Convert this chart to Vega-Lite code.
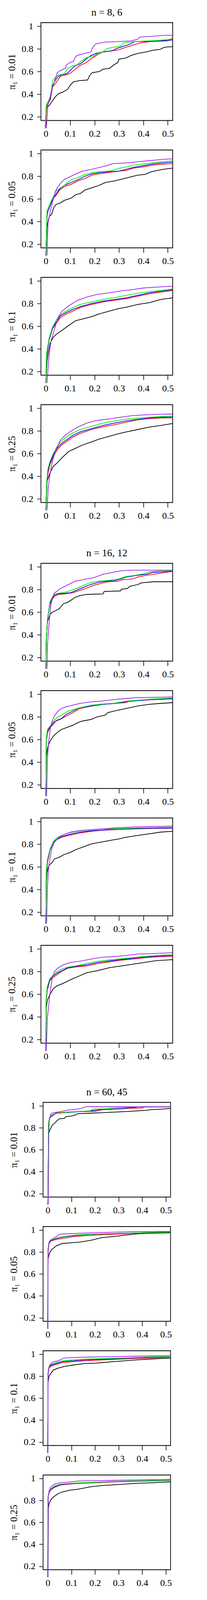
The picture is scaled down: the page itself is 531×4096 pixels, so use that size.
{
"$schema": "https://vega.github.io/schema/vega-lite/v6.json",
"background": "white",
"padding": {"left": 17, "top": 18, "right": 5, "bottom": 5},
"config": {
 "font": "Liberation Serif",
 "view": {"stroke": "#000000", "strokeWidth": 1.8},
 "axis": {"grid": false, "domain": false, "tickColor": "#000000", "tickWidth": 1.6, "labelFont": "Liberation Serif", "labelFontSize": 24, "labelColor": "#000000", "labelFlush": false, "labelOverlap": false, "labelBound": false, "titleFont": "Liberation Serif", "titleFontSize": 25, "titleFontWeight": "normal", "titleColor": "#000000"},
 "axisX": {"tickSize": 12, "labelPadding": 10},
 "axisY": {"tickSize": 10, "labelPadding": 10, "labelAngle": 0},
 "title": {"font": "Liberation Serif", "fontSize": 26, "fontWeight": "normal", "color": "#000000", "anchor": "middle", "frame": "group", "offset": 10},
 "line": {"strokeWidth": 1.8, "clip": true}
},
"datasets": {"d": [
{"p":1,"s":"K","x":-0.002,"y":0.1},{"p":1,"s":"K","x":0.002,"y":0.28},{"p":1,"s":"K","x":0.014,"y":0.3},{"p":1,"s":"K","x":0.028,"y":0.345},{"p":1,"s":"K","x":0.042,"y":0.385},{"p":1,"s":"K","x":0.052,"y":0.405},{"p":1,"s":"K","x":0.071,"y":0.42},{"p":1,"s":"K","x":0.09,"y":0.445},{"p":1,"s":"K","x":0.1,"y":0.48},{"p":1,"s":"K","x":0.114,"y":0.51},{"p":1,"s":"K","x":0.138,"y":0.52},{"p":1,"s":"K","x":0.171,"y":0.525},{"p":1,"s":"K","x":0.181,"y":0.57},{"p":1,"s":"K","x":0.19,"y":0.59},{"p":1,"s":"K","x":0.219,"y":0.6},{"p":1,"s":"K","x":0.233,"y":0.62},{"p":1,"s":"K","x":0.262,"y":0.63},{"p":1,"s":"K","x":0.276,"y":0.655},{"p":1,"s":"K","x":0.295,"y":0.68},{"p":1,"s":"K","x":0.3,"y":0.71},{"p":1,"s":"K","x":0.328,"y":0.72},{"p":1,"s":"K","x":0.347,"y":0.74},{"p":1,"s":"K","x":0.376,"y":0.76},{"p":1,"s":"K","x":0.414,"y":0.775},{"p":1,"s":"K","x":0.443,"y":0.79},{"p":1,"s":"K","x":0.467,"y":0.795},{"p":1,"s":"K","x":0.486,"y":0.815},{"p":1,"s":"K","x":0.52,"y":0.82},
{"p":1,"s":"R","x":-0.002,"y":0.1},{"p":1,"s":"R","x":0.004,"y":0.295},{"p":1,"s":"R","x":0.019,"y":0.356},{"p":1,"s":"R","x":0.028,"y":0.468},{"p":1,"s":"R","x":0.038,"y":0.488},{"p":1,"s":"R","x":0.047,"y":0.519},{"p":1,"s":"R","x":0.061,"y":0.56},{"p":1,"s":"R","x":0.081,"y":0.57},{"p":1,"s":"R","x":0.1,"y":0.585},{"p":1,"s":"R","x":0.114,"y":0.61},{"p":1,"s":"R","x":0.138,"y":0.65},{"p":1,"s":"R","x":0.166,"y":0.68},{"p":1,"s":"R","x":0.185,"y":0.712},{"p":1,"s":"R","x":0.214,"y":0.753},{"p":1,"s":"R","x":0.233,"y":0.773},{"p":1,"s":"R","x":0.271,"y":0.783},{"p":1,"s":"R","x":0.3,"y":0.793},{"p":1,"s":"R","x":0.328,"y":0.814},{"p":1,"s":"R","x":0.357,"y":0.834},{"p":1,"s":"R","x":0.39,"y":0.854},{"p":1,"s":"R","x":0.428,"y":0.865},{"p":1,"s":"R","x":0.495,"y":0.87},{"p":1,"s":"R","x":0.52,"y":0.885},
{"p":1,"s":"B","x":-0.002,"y":0.1},{"p":1,"s":"B","x":0.002,"y":0.305},{"p":1,"s":"B","x":0.019,"y":0.366},{"p":1,"s":"B","x":0.028,"y":0.478},{"p":1,"s":"B","x":0.038,"y":0.519},{"p":1,"s":"B","x":0.047,"y":0.549},{"p":1,"s":"B","x":0.061,"y":0.57},{"p":1,"s":"B","x":0.085,"y":0.58},{"p":1,"s":"B","x":0.1,"y":0.61},{"p":1,"s":"B","x":0.109,"y":0.63},{"p":1,"s":"B","x":0.119,"y":0.65},{"p":1,"s":"B","x":0.143,"y":0.67},{"p":1,"s":"B","x":0.166,"y":0.712},{"p":1,"s":"B","x":0.185,"y":0.742},{"p":1,"s":"B","x":0.209,"y":0.763},{"p":1,"s":"B","x":0.233,"y":0.773},{"p":1,"s":"B","x":0.271,"y":0.783},{"p":1,"s":"B","x":0.29,"y":0.804},{"p":1,"s":"B","x":0.319,"y":0.824},{"p":1,"s":"B","x":0.347,"y":0.844},{"p":1,"s":"B","x":0.362,"y":0.865},{"p":1,"s":"B","x":0.405,"y":0.865},{"p":1,"s":"B","x":0.495,"y":0.875},{"p":1,"s":"B","x":0.52,"y":0.88},
{"p":1,"s":"G","x":-0.002,"y":0.1},{"p":1,"s":"G","x":0.002,"y":0.305},{"p":1,"s":"G","x":0.019,"y":0.376},{"p":1,"s":"G","x":0.028,"y":0.519},{"p":1,"s":"G","x":0.038,"y":0.549},{"p":1,"s":"G","x":0.052,"y":0.57},{"p":1,"s":"G","x":0.076,"y":0.58},{"p":1,"s":"G","x":0.09,"y":0.63},{"p":1,"s":"G","x":0.109,"y":0.65},{"p":1,"s":"G","x":0.128,"y":0.66},{"p":1,"s":"G","x":0.143,"y":0.69},{"p":1,"s":"G","x":0.166,"y":0.722},{"p":1,"s":"G","x":0.2,"y":0.742},{"p":1,"s":"G","x":0.214,"y":0.763},{"p":1,"s":"G","x":0.233,"y":0.773},{"p":1,"s":"G","x":0.252,"y":0.804},{"p":1,"s":"G","x":0.276,"y":0.814},{"p":1,"s":"G","x":0.305,"y":0.824},{"p":1,"s":"G","x":0.319,"y":0.854},{"p":1,"s":"G","x":0.362,"y":0.865},{"p":1,"s":"G","x":0.462,"y":0.875},{"p":1,"s":"G","x":0.51,"y":0.885},{"p":1,"s":"G","x":0.52,"y":0.905},
{"p":1,"s":"P","x":0.002,"y":0.1},{"p":1,"s":"P","x":0.009,"y":0.305},{"p":1,"s":"P","x":0.023,"y":0.427},{"p":1,"s":"P","x":0.038,"y":0.529},{"p":1,"s":"P","x":0.047,"y":0.59},{"p":1,"s":"P","x":0.061,"y":0.61},{"p":1,"s":"P","x":0.081,"y":0.63},{"p":1,"s":"P","x":0.085,"y":0.66},{"p":1,"s":"P","x":0.1,"y":0.68},{"p":1,"s":"P","x":0.114,"y":0.69},{"p":1,"s":"P","x":0.119,"y":0.722},{"p":1,"s":"P","x":0.128,"y":0.742},{"p":1,"s":"P","x":0.147,"y":0.753},{"p":1,"s":"P","x":0.166,"y":0.763},{"p":1,"s":"P","x":0.185,"y":0.773},{"p":1,"s":"P","x":0.19,"y":0.804},{"p":1,"s":"P","x":0.204,"y":0.844},{"p":1,"s":"P","x":0.243,"y":0.86},{"p":1,"s":"P","x":0.347,"y":0.87},{"p":1,"s":"P","x":0.376,"y":0.885},{"p":1,"s":"P","x":0.386,"y":0.905},{"p":1,"s":"P","x":0.424,"y":0.91},{"p":1,"s":"P","x":0.486,"y":0.92},{"p":1,"s":"P","x":0.52,"y":0.92},

{"p":2,"s":"K","x":0,"y":0.1},{"p":2,"s":"K","x":0.005,"y":0.363},{"p":2,"s":"K","x":0.014,"y":0.444},{"p":2,"s":"K","x":0.024,"y":0.465},{"p":2,"s":"K","x":0.033,"y":0.526},{"p":2,"s":"K","x":0.042,"y":0.551},{"p":2,"s":"K","x":0.061,"y":0.566},{"p":2,"s":"K","x":0.075,"y":0.587},{"p":2,"s":"K","x":0.104,"y":0.607},{"p":2,"s":"K","x":0.123,"y":0.638},{"p":2,"s":"K","x":0.142,"y":0.648},{"p":2,"s":"K","x":0.16,"y":0.678},{"p":2,"s":"K","x":0.189,"y":0.699},{"p":2,"s":"K","x":0.217,"y":0.719},{"p":2,"s":"K","x":0.245,"y":0.745},{"p":2,"s":"K","x":0.283,"y":0.76},{"p":2,"s":"K","x":0.311,"y":0.775},{"p":2,"s":"K","x":0.34,"y":0.79},{"p":2,"s":"K","x":0.377,"y":0.81},{"p":2,"s":"K","x":0.406,"y":0.816},{"p":2,"s":"K","x":0.434,"y":0.841},{"p":2,"s":"K","x":0.481,"y":0.862},{"p":2,"s":"K","x":0.52,"y":0.872},
{"p":2,"s":"R","x":0,"y":0.1},{"p":2,"s":"R","x":0.005,"y":0.444},{"p":2,"s":"R","x":0.009,"y":0.495},{"p":2,"s":"R","x":0.019,"y":0.546},{"p":2,"s":"R","x":0.028,"y":0.597},{"p":2,"s":"R","x":0.042,"y":0.633},{"p":2,"s":"R","x":0.057,"y":0.678},{"p":2,"s":"R","x":0.075,"y":0.709},{"p":2,"s":"R","x":0.104,"y":0.729},{"p":2,"s":"R","x":0.132,"y":0.76},{"p":2,"s":"R","x":0.16,"y":0.78},{"p":2,"s":"R","x":0.189,"y":0.81},{"p":2,"s":"R","x":0.217,"y":0.821},{"p":2,"s":"R","x":0.264,"y":0.836},{"p":2,"s":"R","x":0.302,"y":0.846},{"p":2,"s":"R","x":0.33,"y":0.851},{"p":2,"s":"R","x":0.358,"y":0.872},{"p":2,"s":"R","x":0.396,"y":0.882},{"p":2,"s":"R","x":0.434,"y":0.897},{"p":2,"s":"R","x":0.472,"y":0.907},{"p":2,"s":"R","x":0.52,"y":0.912},
{"p":2,"s":"B","x":0,"y":0.1},{"p":2,"s":"B","x":0.005,"y":0.465},{"p":2,"s":"B","x":0.009,"y":0.495},{"p":2,"s":"B","x":0.019,"y":0.546},{"p":2,"s":"B","x":0.028,"y":0.597},{"p":2,"s":"B","x":0.042,"y":0.643},{"p":2,"s":"B","x":0.057,"y":0.689},{"p":2,"s":"B","x":0.075,"y":0.719},{"p":2,"s":"B","x":0.104,"y":0.745},{"p":2,"s":"B","x":0.132,"y":0.77},{"p":2,"s":"B","x":0.16,"y":0.8},{"p":2,"s":"B","x":0.189,"y":0.821},{"p":2,"s":"B","x":0.217,"y":0.831},{"p":2,"s":"B","x":0.264,"y":0.841},{"p":2,"s":"B","x":0.302,"y":0.846},{"p":2,"s":"B","x":0.33,"y":0.862},{"p":2,"s":"B","x":0.358,"y":0.877},{"p":2,"s":"B","x":0.396,"y":0.892},{"p":2,"s":"B","x":0.434,"y":0.907},{"p":2,"s":"B","x":0.472,"y":0.918},{"p":2,"s":"B","x":0.52,"y":0.925},
{"p":2,"s":"G","x":0,"y":0.1},{"p":2,"s":"G","x":0.005,"y":0.495},{"p":2,"s":"G","x":0.014,"y":0.546},{"p":2,"s":"G","x":0.028,"y":0.607},{"p":2,"s":"G","x":0.042,"y":0.668},{"p":2,"s":"G","x":0.057,"y":0.694},{"p":2,"s":"G","x":0.075,"y":0.719},{"p":2,"s":"G","x":0.104,"y":0.77},{"p":2,"s":"G","x":0.132,"y":0.79},{"p":2,"s":"G","x":0.16,"y":0.816},{"p":2,"s":"G","x":0.189,"y":0.831},{"p":2,"s":"G","x":0.226,"y":0.841},{"p":2,"s":"G","x":0.264,"y":0.846},{"p":2,"s":"G","x":0.302,"y":0.872},{"p":2,"s":"G","x":0.33,"y":0.882},{"p":2,"s":"G","x":0.358,"y":0.897},{"p":2,"s":"G","x":0.396,"y":0.907},{"p":2,"s":"G","x":0.434,"y":0.918},{"p":2,"s":"G","x":0.472,"y":0.928},{"p":2,"s":"G","x":0.52,"y":0.935},
{"p":2,"s":"P","x":0.005,"y":0.1},{"p":2,"s":"P","x":0.009,"y":0.383},{"p":2,"s":"P","x":0.019,"y":0.495},{"p":2,"s":"P","x":0.028,"y":0.577},{"p":2,"s":"P","x":0.038,"y":0.658},{"p":2,"s":"P","x":0.047,"y":0.699},{"p":2,"s":"P","x":0.061,"y":0.74},{"p":2,"s":"P","x":0.075,"y":0.77},{"p":2,"s":"P","x":0.094,"y":0.79},{"p":2,"s":"P","x":0.123,"y":0.821},{"p":2,"s":"P","x":0.151,"y":0.846},{"p":2,"s":"P","x":0.189,"y":0.862},{"p":2,"s":"P","x":0.236,"y":0.887},{"p":2,"s":"P","x":0.255,"y":0.897},{"p":2,"s":"P","x":0.274,"y":0.912},{"p":2,"s":"P","x":0.33,"y":0.918},{"p":2,"s":"P","x":0.377,"y":0.928},{"p":2,"s":"P","x":0.425,"y":0.938},{"p":2,"s":"P","x":0.472,"y":0.948},{"p":2,"s":"P","x":0.52,"y":0.955},

{"p":3,"s":"K","x":0,"y":0.1},{"p":3,"s":"K","x":0.005,"y":0.3},{"p":3,"s":"K","x":0.017,"y":0.447},{"p":3,"s":"K","x":0.031,"y":0.505},{"p":3,"s":"K","x":0.046,"y":0.534},{"p":3,"s":"K","x":0.065,"y":0.562},{"p":3,"s":"K","x":0.093,"y":0.606},{"p":3,"s":"K","x":0.122,"y":0.649},{"p":3,"s":"K","x":0.15,"y":0.664},{"p":3,"s":"K","x":0.188,"y":0.685},{"p":3,"s":"K","x":0.216,"y":0.707},{"p":3,"s":"K","x":0.263,"y":0.736},{"p":3,"s":"K","x":0.301,"y":0.757},{"p":3,"s":"K","x":0.329,"y":0.768},{"p":3,"s":"K","x":0.377,"y":0.793},{"p":3,"s":"K","x":0.424,"y":0.808},{"p":3,"s":"K","x":0.471,"y":0.837},{"p":3,"s":"K","x":0.52,"y":0.851},
{"p":3,"s":"R","x":0,"y":0.1},{"p":3,"s":"R","x":0.003,"y":0.331},{"p":3,"s":"R","x":0.013,"y":0.476},{"p":3,"s":"R","x":0.027,"y":0.577},{"p":3,"s":"R","x":0.041,"y":0.62},{"p":3,"s":"R","x":0.06,"y":0.678},{"p":3,"s":"R","x":0.084,"y":0.707},{"p":3,"s":"R","x":0.112,"y":0.736},{"p":3,"s":"R","x":0.14,"y":0.765},{"p":3,"s":"R","x":0.188,"y":0.793},{"p":3,"s":"R","x":0.235,"y":0.815},{"p":3,"s":"R","x":0.283,"y":0.83},{"p":3,"s":"R","x":0.33,"y":0.844},{"p":3,"s":"R","x":0.377,"y":0.866},{"p":3,"s":"R","x":0.424,"y":0.887},{"p":3,"s":"R","x":0.471,"y":0.902},{"p":3,"s":"R","x":0.52,"y":0.916},
{"p":3,"s":"B","x":0,"y":0.1},{"p":3,"s":"B","x":0.003,"y":0.331},{"p":3,"s":"B","x":0.013,"y":0.476},{"p":3,"s":"B","x":0.027,"y":0.577},{"p":3,"s":"B","x":0.041,"y":0.633},{"p":3,"s":"B","x":0.06,"y":0.692},{"p":3,"s":"B","x":0.084,"y":0.721},{"p":3,"s":"B","x":0.112,"y":0.75},{"p":3,"s":"B","x":0.14,"y":0.772},{"p":3,"s":"B","x":0.188,"y":0.801},{"p":3,"s":"B","x":0.235,"y":0.822},{"p":3,"s":"B","x":0.283,"y":0.837},{"p":3,"s":"B","x":0.33,"y":0.851},{"p":3,"s":"B","x":0.377,"y":0.873},{"p":3,"s":"B","x":0.424,"y":0.895},{"p":3,"s":"B","x":0.471,"y":0.909},{"p":3,"s":"B","x":0.52,"y":0.923},
{"p":3,"s":"G","x":0,"y":0.1},{"p":3,"s":"G","x":0.003,"y":0.36},{"p":3,"s":"G","x":0.013,"y":0.49},{"p":3,"s":"G","x":0.027,"y":0.591},{"p":3,"s":"G","x":0.041,"y":0.649},{"p":3,"s":"G","x":0.06,"y":0.7},{"p":3,"s":"G","x":0.084,"y":0.736},{"p":3,"s":"G","x":0.112,"y":0.765},{"p":3,"s":"G","x":0.14,"y":0.793},{"p":3,"s":"G","x":0.188,"y":0.815},{"p":3,"s":"G","x":0.235,"y":0.837},{"p":3,"s":"G","x":0.283,"y":0.854},{"p":3,"s":"G","x":0.33,"y":0.873},{"p":3,"s":"G","x":0.377,"y":0.892},{"p":3,"s":"G","x":0.424,"y":0.906},{"p":3,"s":"G","x":0.471,"y":0.916},{"p":3,"s":"G","x":0.52,"y":0.931},
{"p":3,"s":"P","x":0.005,"y":0.1},{"p":3,"s":"P","x":0.013,"y":0.331},{"p":3,"s":"P","x":0.022,"y":0.476},{"p":3,"s":"P","x":0.036,"y":0.577},{"p":3,"s":"P","x":0.05,"y":0.678},{"p":3,"s":"P","x":0.065,"y":0.729},{"p":3,"s":"P","x":0.084,"y":0.765},{"p":3,"s":"P","x":0.103,"y":0.793},{"p":3,"s":"P","x":0.131,"y":0.83},{"p":3,"s":"P","x":0.169,"y":0.858},{"p":3,"s":"P","x":0.207,"y":0.88},{"p":3,"s":"P","x":0.259,"y":0.895},{"p":3,"s":"P","x":0.306,"y":0.912},{"p":3,"s":"P","x":0.353,"y":0.923},{"p":3,"s":"P","x":0.401,"y":0.938},{"p":3,"s":"P","x":0.471,"y":0.948},{"p":3,"s":"P","x":0.52,"y":0.955},

{"p":4,"s":"K","x":0,"y":0.1},{"p":4,"s":"K","x":0.005,"y":0.359},{"p":4,"s":"K","x":0.008,"y":0.373},{"p":4,"s":"K","x":0.017,"y":0.431},{"p":4,"s":"K","x":0.031,"y":0.488},{"p":4,"s":"K","x":0.046,"y":0.517},{"p":4,"s":"K","x":0.065,"y":0.56},{"p":4,"s":"K","x":0.093,"y":0.618},{"p":4,"s":"K","x":0.122,"y":0.647},{"p":4,"s":"K","x":0.15,"y":0.676},{"p":4,"s":"K","x":0.188,"y":0.704},{"p":4,"s":"K","x":0.216,"y":0.726},{"p":4,"s":"K","x":0.263,"y":0.755},{"p":4,"s":"K","x":0.301,"y":0.777},{"p":4,"s":"K","x":0.329,"y":0.791},{"p":4,"s":"K","x":0.377,"y":0.813},{"p":4,"s":"K","x":0.424,"y":0.834},{"p":4,"s":"K","x":0.471,"y":0.849},{"p":4,"s":"K","x":0.52,"y":0.866},
{"p":4,"s":"R","x":0,"y":0.1},{"p":4,"s":"R","x":0.003,"y":0.3},{"p":4,"s":"R","x":0.008,"y":0.416},{"p":4,"s":"R","x":0.017,"y":0.503},{"p":4,"s":"R","x":0.031,"y":0.575},{"p":4,"s":"R","x":0.046,"y":0.632},{"p":4,"s":"R","x":0.065,"y":0.676},{"p":4,"s":"R","x":0.084,"y":0.704},{"p":4,"s":"R","x":0.112,"y":0.748},{"p":4,"s":"R","x":0.14,"y":0.777},{"p":4,"s":"R","x":0.188,"y":0.813},{"p":4,"s":"R","x":0.235,"y":0.837},{"p":4,"s":"R","x":0.283,"y":0.856},{"p":4,"s":"R","x":0.33,"y":0.877},{"p":4,"s":"R","x":0.377,"y":0.899},{"p":4,"s":"R","x":0.424,"y":0.909},{"p":4,"s":"R","x":0.471,"y":0.914},{"p":4,"s":"R","x":0.52,"y":0.916},
{"p":4,"s":"B","x":0,"y":0.1},{"p":4,"s":"B","x":0.003,"y":0.31},{"p":4,"s":"B","x":0.008,"y":0.445},{"p":4,"s":"B","x":0.017,"y":0.517},{"p":4,"s":"B","x":0.031,"y":0.589},{"p":4,"s":"B","x":0.046,"y":0.647},{"p":4,"s":"B","x":0.065,"y":0.69},{"p":4,"s":"B","x":0.084,"y":0.719},{"p":4,"s":"B","x":0.112,"y":0.762},{"p":4,"s":"B","x":0.14,"y":0.791},{"p":4,"s":"B","x":0.188,"y":0.82},{"p":4,"s":"B","x":0.235,"y":0.849},{"p":4,"s":"B","x":0.283,"y":0.87},{"p":4,"s":"B","x":0.33,"y":0.889},{"p":4,"s":"B","x":0.377,"y":0.903},{"p":4,"s":"B","x":0.424,"y":0.914},{"p":4,"s":"B","x":0.471,"y":0.921},{"p":4,"s":"B","x":0.52,"y":0.924},
{"p":4,"s":"G","x":0,"y":0.1},{"p":4,"s":"G","x":0.003,"y":0.33},{"p":4,"s":"G","x":0.008,"y":0.46},{"p":4,"s":"G","x":0.017,"y":0.532},{"p":4,"s":"G","x":0.031,"y":0.604},{"p":4,"s":"G","x":0.046,"y":0.661},{"p":4,"s":"G","x":0.065,"y":0.712},{"p":4,"s":"G","x":0.084,"y":0.748},{"p":4,"s":"G","x":0.112,"y":0.784},{"p":4,"s":"G","x":0.14,"y":0.813},{"p":4,"s":"G","x":0.188,"y":0.841},{"p":4,"s":"G","x":0.235,"y":0.87},{"p":4,"s":"G","x":0.283,"y":0.889},{"p":4,"s":"G","x":0.33,"y":0.906},{"p":4,"s":"G","x":0.377,"y":0.914},{"p":4,"s":"G","x":0.424,"y":0.921},{"p":4,"s":"G","x":0.471,"y":0.928},{"p":4,"s":"G","x":0.52,"y":0.931},
{"p":4,"s":"P","x":0.005,"y":0.1},{"p":4,"s":"P","x":0.01,"y":0.3},{"p":4,"s":"P","x":0.017,"y":0.416},{"p":4,"s":"P","x":0.027,"y":0.532},{"p":4,"s":"P","x":0.041,"y":0.632},{"p":4,"s":"P","x":0.06,"y":0.719},{"p":4,"s":"P","x":0.079,"y":0.762},{"p":4,"s":"P","x":0.103,"y":0.798},{"p":4,"s":"P","x":0.131,"y":0.834},{"p":4,"s":"P","x":0.169,"y":0.87},{"p":4,"s":"P","x":0.207,"y":0.892},{"p":4,"s":"P","x":0.259,"y":0.906},{"p":4,"s":"P","x":0.306,"y":0.921},{"p":4,"s":"P","x":0.353,"y":0.935},{"p":4,"s":"P","x":0.401,"y":0.942},{"p":4,"s":"P","x":0.471,"y":0.947},{"p":4,"s":"P","x":0.52,"y":0.95},

{"p":5,"s":"K","x":0,"y":0.1},{"p":5,"s":"K","x":0.002,"y":0.35},{"p":5,"s":"K","x":0.005,"y":0.466},{"p":5,"s":"K","x":0.007,"y":0.517},{"p":5,"s":"K","x":0.012,"y":0.548},{"p":5,"s":"K","x":0.017,"y":0.579},{"p":5,"s":"K","x":0.026,"y":0.599},{"p":5,"s":"K","x":0.04,"y":0.614},{"p":5,"s":"K","x":0.055,"y":0.63},{"p":5,"s":"K","x":0.064,"y":0.655},{"p":5,"s":"K","x":0.073,"y":0.676},{"p":5,"s":"K","x":0.088,"y":0.686},{"p":5,"s":"K","x":0.107,"y":0.711},{"p":5,"s":"K","x":0.121,"y":0.732},{"p":5,"s":"K","x":0.14,"y":0.747},{"p":5,"s":"K","x":0.168,"y":0.757},{"p":5,"s":"K","x":0.235,"y":0.762},{"p":5,"s":"K","x":0.239,"y":0.783},{"p":5,"s":"K","x":0.306,"y":0.788},{"p":5,"s":"K","x":0.31,"y":0.803},{"p":5,"s":"K","x":0.334,"y":0.808},{"p":5,"s":"K","x":0.344,"y":0.829},{"p":5,"s":"K","x":0.377,"y":0.844},{"p":5,"s":"K","x":0.391,"y":0.859},{"p":5,"s":"K","x":0.443,"y":0.869},{"p":5,"s":"K","x":0.52,"y":0.869},
{"p":5,"s":"R","x":0,"y":0.1},{"p":5,"s":"R","x":0.002,"y":0.364},{"p":5,"s":"R","x":0.007,"y":0.538},{"p":5,"s":"R","x":0.017,"y":0.67},{"p":5,"s":"R","x":0.026,"y":0.711},{"p":5,"s":"R","x":0.036,"y":0.742},{"p":5,"s":"R","x":0.05,"y":0.757},{"p":5,"s":"R","x":0.078,"y":0.762},{"p":5,"s":"R","x":0.111,"y":0.772},{"p":5,"s":"R","x":0.14,"y":0.793},{"p":5,"s":"R","x":0.168,"y":0.813},{"p":5,"s":"R","x":0.192,"y":0.834},{"p":5,"s":"R","x":0.225,"y":0.854},{"p":5,"s":"R","x":0.254,"y":0.869},{"p":5,"s":"R","x":0.296,"y":0.874},{"p":5,"s":"R","x":0.31,"y":0.885},{"p":5,"s":"R","x":0.358,"y":0.895},{"p":5,"s":"R","x":0.377,"y":0.91},{"p":5,"s":"R","x":0.415,"y":0.926},{"p":5,"s":"R","x":0.448,"y":0.936},{"p":5,"s":"R","x":0.486,"y":0.951},{"p":5,"s":"R","x":0.52,"y":0.961},
{"p":5,"s":"B","x":0,"y":0.1},{"p":5,"s":"B","x":0.002,"y":0.364},{"p":5,"s":"B","x":0.007,"y":0.538},{"p":5,"s":"B","x":0.017,"y":0.68},{"p":5,"s":"B","x":0.026,"y":0.721},{"p":5,"s":"B","x":0.036,"y":0.752},{"p":5,"s":"B","x":0.05,"y":0.762},{"p":5,"s":"B","x":0.102,"y":0.772},{"p":5,"s":"B","x":0.13,"y":0.798},{"p":5,"s":"B","x":0.159,"y":0.823},{"p":5,"s":"B","x":0.182,"y":0.844},{"p":5,"s":"B","x":0.216,"y":0.864},{"p":5,"s":"B","x":0.249,"y":0.874},{"p":5,"s":"B","x":0.282,"y":0.88},{"p":5,"s":"B","x":0.31,"y":0.895},{"p":5,"s":"B","x":0.329,"y":0.91},{"p":5,"s":"B","x":0.377,"y":0.926},{"p":5,"s":"B","x":0.415,"y":0.936},{"p":5,"s":"B","x":0.438,"y":0.951},{"p":5,"s":"B","x":0.472,"y":0.956},{"p":5,"s":"B","x":0.52,"y":0.961},
{"p":5,"s":"G","x":0,"y":0.1},{"p":5,"s":"G","x":0.002,"y":0.364},{"p":5,"s":"G","x":0.007,"y":0.548},{"p":5,"s":"G","x":0.017,"y":0.691},{"p":5,"s":"G","x":0.026,"y":0.732},{"p":5,"s":"G","x":0.036,"y":0.757},{"p":5,"s":"G","x":0.05,"y":0.767},{"p":5,"s":"G","x":0.083,"y":0.778},{"p":5,"s":"G","x":0.111,"y":0.798},{"p":5,"s":"G","x":0.14,"y":0.823},{"p":5,"s":"G","x":0.168,"y":0.849},{"p":5,"s":"G","x":0.187,"y":0.864},{"p":5,"s":"G","x":0.216,"y":0.874},{"p":5,"s":"G","x":0.277,"y":0.885},{"p":5,"s":"G","x":0.301,"y":0.895},{"p":5,"s":"G","x":0.329,"y":0.915},{"p":5,"s":"G","x":0.367,"y":0.926},{"p":5,"s":"G","x":0.405,"y":0.941},{"p":5,"s":"G","x":0.424,"y":0.956},{"p":5,"s":"G","x":0.472,"y":0.966},{"p":5,"s":"G","x":0.52,"y":0.966},
{"p":5,"s":"P","x":0.005,"y":0.1},{"p":5,"s":"P","x":0.007,"y":0.313},{"p":5,"s":"P","x":0.012,"y":0.466},{"p":5,"s":"P","x":0.021,"y":0.67},{"p":5,"s":"P","x":0.031,"y":0.752},{"p":5,"s":"P","x":0.036,"y":0.772},{"p":5,"s":"P","x":0.045,"y":0.783},{"p":5,"s":"P","x":0.055,"y":0.803},{"p":5,"s":"P","x":0.064,"y":0.813},{"p":5,"s":"P","x":0.083,"y":0.834},{"p":5,"s":"P","x":0.102,"y":0.854},{"p":5,"s":"P","x":0.121,"y":0.874},{"p":5,"s":"P","x":0.149,"y":0.885},{"p":5,"s":"P","x":0.168,"y":0.895},{"p":5,"s":"P","x":0.197,"y":0.905},{"p":5,"s":"P","x":0.216,"y":0.92},{"p":5,"s":"P","x":0.235,"y":0.936},{"p":5,"s":"P","x":0.263,"y":0.946},{"p":5,"s":"P","x":0.282,"y":0.956},{"p":5,"s":"P","x":0.31,"y":0.966},{"p":5,"s":"P","x":0.353,"y":0.971},{"p":5,"s":"P","x":0.52,"y":0.971},

{"p":6,"s":"K","x":0,"y":0.1},{"p":6,"s":"K","x":0.002,"y":0.437},{"p":6,"s":"K","x":0.007,"y":0.526},{"p":6,"s":"K","x":0.017,"y":0.585},{"p":6,"s":"K","x":0.031,"y":0.63},{"p":6,"s":"K","x":0.045,"y":0.659},{"p":6,"s":"K","x":0.064,"y":0.689},{"p":6,"s":"K","x":0.083,"y":0.704},{"p":6,"s":"K","x":0.111,"y":0.726},{"p":6,"s":"K","x":0.13,"y":0.748},{"p":6,"s":"K","x":0.149,"y":0.763},{"p":6,"s":"K","x":0.187,"y":0.778},{"p":6,"s":"K","x":0.21,"y":0.8},{"p":6,"s":"K","x":0.243,"y":0.815},{"p":6,"s":"K","x":0.253,"y":0.837},{"p":6,"s":"K","x":0.281,"y":0.852},{"p":6,"s":"K","x":0.328,"y":0.874},{"p":6,"s":"K","x":0.376,"y":0.896},{"p":6,"s":"K","x":0.423,"y":0.911},{"p":6,"s":"K","x":0.47,"y":0.919},{"p":6,"s":"K","x":0.52,"y":0.926},
{"p":6,"s":"R","x":0,"y":0.1},{"p":6,"s":"R","x":0.002,"y":0.585},{"p":6,"s":"R","x":0.007,"y":0.659},{"p":6,"s":"R","x":0.017,"y":0.704},{"p":6,"s":"R","x":0.031,"y":0.733},{"p":6,"s":"R","x":0.04,"y":0.763},{"p":6,"s":"R","x":0.059,"y":0.778},{"p":6,"s":"R","x":0.083,"y":0.807},{"p":6,"s":"R","x":0.111,"y":0.837},{"p":6,"s":"R","x":0.139,"y":0.874},{"p":6,"s":"R","x":0.187,"y":0.896},{"p":6,"s":"R","x":0.234,"y":0.911},{"p":6,"s":"R","x":0.281,"y":0.919},{"p":6,"s":"R","x":0.328,"y":0.926},{"p":6,"s":"R","x":0.343,"y":0.941},{"p":6,"s":"R","x":0.399,"y":0.948},{"p":6,"s":"R","x":0.447,"y":0.953},{"p":6,"s":"R","x":0.52,"y":0.959},
{"p":6,"s":"B","x":0,"y":0.1},{"p":6,"s":"B","x":0.002,"y":0.6},{"p":6,"s":"B","x":0.007,"y":0.674},{"p":6,"s":"B","x":0.017,"y":0.711},{"p":6,"s":"B","x":0.031,"y":0.748},{"p":6,"s":"B","x":0.045,"y":0.77},{"p":6,"s":"B","x":0.064,"y":0.785},{"p":6,"s":"B","x":0.083,"y":0.822},{"p":6,"s":"B","x":0.111,"y":0.852},{"p":6,"s":"B","x":0.139,"y":0.881},{"p":6,"s":"B","x":0.187,"y":0.896},{"p":6,"s":"B","x":0.234,"y":0.911},{"p":6,"s":"B","x":0.281,"y":0.919},{"p":6,"s":"B","x":0.328,"y":0.933},{"p":6,"s":"B","x":0.376,"y":0.944},{"p":6,"s":"B","x":0.447,"y":0.956},{"p":6,"s":"B","x":0.52,"y":0.961},
{"p":6,"s":"G","x":0,"y":0.1},{"p":6,"s":"G","x":0.002,"y":0.615},{"p":6,"s":"G","x":0.007,"y":0.689},{"p":6,"s":"G","x":0.017,"y":0.719},{"p":6,"s":"G","x":0.031,"y":0.763},{"p":6,"s":"G","x":0.045,"y":0.793},{"p":6,"s":"G","x":0.064,"y":0.815},{"p":6,"s":"G","x":0.092,"y":0.852},{"p":6,"s":"G","x":0.139,"y":0.881},{"p":6,"s":"G","x":0.187,"y":0.904},{"p":6,"s":"G","x":0.234,"y":0.914},{"p":6,"s":"G","x":0.281,"y":0.921},{"p":6,"s":"G","x":0.328,"y":0.938},{"p":6,"s":"G","x":0.376,"y":0.948},{"p":6,"s":"G","x":0.447,"y":0.959},{"p":6,"s":"G","x":0.52,"y":0.967},
{"p":6,"s":"P","x":0.003,"y":0.1},{"p":6,"s":"P","x":0.007,"y":0.437},{"p":6,"s":"P","x":0.012,"y":0.585},{"p":6,"s":"P","x":0.019,"y":0.704},{"p":6,"s":"P","x":0.026,"y":0.763},{"p":6,"s":"P","x":0.035,"y":0.807},{"p":6,"s":"P","x":0.05,"y":0.852},{"p":6,"s":"P","x":0.064,"y":0.874},{"p":6,"s":"P","x":0.083,"y":0.889},{"p":6,"s":"P","x":0.111,"y":0.904},{"p":6,"s":"P","x":0.139,"y":0.919},{"p":6,"s":"P","x":0.187,"y":0.933},{"p":6,"s":"P","x":0.234,"y":0.941},{"p":6,"s":"P","x":0.281,"y":0.953},{"p":6,"s":"P","x":0.328,"y":0.963},{"p":6,"s":"P","x":0.376,"y":0.97},{"p":6,"s":"P","x":0.447,"y":0.973},{"p":6,"s":"P","x":0.52,"y":0.976},

{"p":7,"s":"K","x":0,"y":0.1},{"p":7,"s":"K","x":0.002,"y":0.45},{"p":7,"s":"K","x":0.005,"y":0.551},{"p":7,"s":"K","x":0.012,"y":0.61},{"p":7,"s":"K","x":0.026,"y":0.64},{"p":7,"s":"K","x":0.035,"y":0.67},{"p":7,"s":"K","x":0.054,"y":0.684},{"p":7,"s":"K","x":0.073,"y":0.707},{"p":7,"s":"K","x":0.102,"y":0.729},{"p":7,"s":"K","x":0.121,"y":0.751},{"p":7,"s":"K","x":0.149,"y":0.773},{"p":7,"s":"K","x":0.187,"y":0.803},{"p":7,"s":"K","x":0.224,"y":0.818},{"p":7,"s":"K","x":0.262,"y":0.833},{"p":7,"s":"K","x":0.3,"y":0.847},{"p":7,"s":"K","x":0.328,"y":0.862},{"p":7,"s":"K","x":0.376,"y":0.877},{"p":7,"s":"K","x":0.423,"y":0.892},{"p":7,"s":"K","x":0.47,"y":0.907},{"p":7,"s":"K","x":0.52,"y":0.914},
{"p":7,"s":"R","x":0,"y":0.1},{"p":7,"s":"R","x":0.002,"y":0.52},{"p":7,"s":"R","x":0.007,"y":0.64},{"p":7,"s":"R","x":0.017,"y":0.744},{"p":7,"s":"R","x":0.031,"y":0.818},{"p":7,"s":"R","x":0.045,"y":0.84},{"p":7,"s":"R","x":0.064,"y":0.862},{"p":7,"s":"R","x":0.092,"y":0.877},{"p":7,"s":"R","x":0.139,"y":0.899},{"p":7,"s":"R","x":0.187,"y":0.914},{"p":7,"s":"R","x":0.234,"y":0.924},{"p":7,"s":"R","x":0.281,"y":0.929},{"p":7,"s":"R","x":0.328,"y":0.933},{"p":7,"s":"R","x":0.376,"y":0.936},{"p":7,"s":"R","x":0.423,"y":0.939},{"p":7,"s":"R","x":0.52,"y":0.942},
{"p":7,"s":"B","x":0,"y":0.1},{"p":7,"s":"B","x":0.002,"y":0.535},{"p":7,"s":"B","x":0.007,"y":0.655},{"p":7,"s":"B","x":0.017,"y":0.751},{"p":7,"s":"B","x":0.031,"y":0.818},{"p":7,"s":"B","x":0.045,"y":0.843},{"p":7,"s":"B","x":0.064,"y":0.865},{"p":7,"s":"B","x":0.092,"y":0.884},{"p":7,"s":"B","x":0.139,"y":0.907},{"p":7,"s":"B","x":0.187,"y":0.919},{"p":7,"s":"B","x":0.234,"y":0.924},{"p":7,"s":"B","x":0.281,"y":0.933},{"p":7,"s":"B","x":0.328,"y":0.936},{"p":7,"s":"B","x":0.376,"y":0.939},{"p":7,"s":"B","x":0.52,"y":0.944},
{"p":7,"s":"G","x":0,"y":0.1},{"p":7,"s":"G","x":0.002,"y":0.566},{"p":7,"s":"G","x":0.007,"y":0.67},{"p":7,"s":"G","x":0.017,"y":0.758},{"p":7,"s":"G","x":0.031,"y":0.825},{"p":7,"s":"G","x":0.045,"y":0.855},{"p":7,"s":"G","x":0.064,"y":0.877},{"p":7,"s":"G","x":0.092,"y":0.899},{"p":7,"s":"G","x":0.139,"y":0.919},{"p":7,"s":"G","x":0.187,"y":0.929},{"p":7,"s":"G","x":0.234,"y":0.933},{"p":7,"s":"G","x":0.281,"y":0.936},{"p":7,"s":"G","x":0.376,"y":0.944},{"p":7,"s":"G","x":0.52,"y":0.951},
{"p":7,"s":"P","x":0.003,"y":0.1},{"p":7,"s":"P","x":0.007,"y":0.432},{"p":7,"s":"P","x":0.012,"y":0.596},{"p":7,"s":"P","x":0.019,"y":0.7},{"p":7,"s":"P","x":0.026,"y":0.773},{"p":7,"s":"P","x":0.035,"y":0.818},{"p":7,"s":"P","x":0.054,"y":0.862},{"p":7,"s":"P","x":0.073,"y":0.884},{"p":7,"s":"P","x":0.102,"y":0.907},{"p":7,"s":"P","x":0.139,"y":0.921},{"p":7,"s":"P","x":0.187,"y":0.929},{"p":7,"s":"P","x":0.234,"y":0.936},{"p":7,"s":"P","x":0.281,"y":0.944},{"p":7,"s":"P","x":0.376,"y":0.954},{"p":7,"s":"P","x":0.52,"y":0.961},

{"p":8,"s":"K","x":0,"y":0.1},{"p":8,"s":"K","x":0.002,"y":0.483},{"p":8,"s":"K","x":0.006,"y":0.544},{"p":8,"s":"K","x":0.016,"y":0.595},{"p":8,"s":"K","x":0.03,"y":0.646},{"p":8,"s":"K","x":0.044,"y":0.672},{"p":8,"s":"K","x":0.072,"y":0.697},{"p":8,"s":"K","x":0.101,"y":0.728},{"p":8,"s":"K","x":0.139,"y":0.763},{"p":8,"s":"K","x":0.167,"y":0.789},{"p":8,"s":"K","x":0.214,"y":0.809},{"p":8,"s":"K","x":0.262,"y":0.835},{"p":8,"s":"K","x":0.309,"y":0.85},{"p":8,"s":"K","x":0.357,"y":0.865},{"p":8,"s":"K","x":0.404,"y":0.881},{"p":8,"s":"K","x":0.451,"y":0.896},{"p":8,"s":"K","x":0.52,"y":0.906},
{"p":8,"s":"R","x":0,"y":0.1},{"p":8,"s":"R","x":0.001,"y":0.534},{"p":8,"s":"R","x":0.006,"y":0.636},{"p":8,"s":"R","x":0.016,"y":0.718},{"p":8,"s":"R","x":0.03,"y":0.748},{"p":8,"s":"R","x":0.044,"y":0.769},{"p":8,"s":"R","x":0.063,"y":0.8},{"p":8,"s":"R","x":0.091,"y":0.83},{"p":8,"s":"R","x":0.12,"y":0.84},{"p":8,"s":"R","x":0.167,"y":0.85},{"p":8,"s":"R","x":0.214,"y":0.871},{"p":8,"s":"R","x":0.262,"y":0.886},{"p":8,"s":"R","x":0.309,"y":0.901},{"p":8,"s":"R","x":0.357,"y":0.911},{"p":8,"s":"R","x":0.404,"y":0.922},{"p":8,"s":"R","x":0.451,"y":0.93},{"p":8,"s":"R","x":0.52,"y":0.937},
{"p":8,"s":"B","x":0,"y":0.1},{"p":8,"s":"B","x":0.001,"y":0.544},{"p":8,"s":"B","x":0.006,"y":0.646},{"p":8,"s":"B","x":0.016,"y":0.728},{"p":8,"s":"B","x":0.03,"y":0.758},{"p":8,"s":"B","x":0.044,"y":0.784},{"p":8,"s":"B","x":0.063,"y":0.804},{"p":8,"s":"B","x":0.091,"y":0.835},{"p":8,"s":"B","x":0.12,"y":0.845},{"p":8,"s":"B","x":0.167,"y":0.86},{"p":8,"s":"B","x":0.214,"y":0.881},{"p":8,"s":"B","x":0.262,"y":0.894},{"p":8,"s":"B","x":0.309,"y":0.907},{"p":8,"s":"B","x":0.357,"y":0.917},{"p":8,"s":"B","x":0.404,"y":0.927},{"p":8,"s":"B","x":0.451,"y":0.936},{"p":8,"s":"B","x":0.52,"y":0.942},
{"p":8,"s":"G","x":0,"y":0.1},{"p":8,"s":"G","x":0.001,"y":0.555},{"p":8,"s":"G","x":0.006,"y":0.667},{"p":8,"s":"G","x":0.016,"y":0.738},{"p":8,"s":"G","x":0.03,"y":0.769},{"p":8,"s":"G","x":0.044,"y":0.794},{"p":8,"s":"G","x":0.063,"y":0.82},{"p":8,"s":"G","x":0.091,"y":0.84},{"p":8,"s":"G","x":0.12,"y":0.85},{"p":8,"s":"G","x":0.167,"y":0.871},{"p":8,"s":"G","x":0.214,"y":0.891},{"p":8,"s":"G","x":0.262,"y":0.904},{"p":8,"s":"G","x":0.309,"y":0.914},{"p":8,"s":"G","x":0.357,"y":0.924},{"p":8,"s":"G","x":0.404,"y":0.934},{"p":8,"s":"G","x":0.451,"y":0.942},{"p":8,"s":"G","x":0.52,"y":0.949},
{"p":8,"s":"P","x":0.002,"y":0.1},{"p":8,"s":"P","x":0.006,"y":0.381},{"p":8,"s":"P","x":0.016,"y":0.585},{"p":8,"s":"P","x":0.025,"y":0.728},{"p":8,"s":"P","x":0.035,"y":0.8},{"p":8,"s":"P","x":0.049,"y":0.83},{"p":8,"s":"P","x":0.072,"y":0.86},{"p":8,"s":"P","x":0.101,"y":0.881},{"p":8,"s":"P","x":0.139,"y":0.891},{"p":8,"s":"P","x":0.186,"y":0.911},{"p":8,"s":"P","x":0.233,"y":0.927},{"p":8,"s":"P","x":0.281,"y":0.932},{"p":8,"s":"P","x":0.328,"y":0.942},{"p":8,"s":"P","x":0.375,"y":0.955},{"p":8,"s":"P","x":0.447,"y":0.96},{"p":8,"s":"P","x":0.52,"y":0.967},

{"p":9,"s":"K","x":0,"y":0.1},{"p":9,"s":"K","x":0.001,"y":0.218},{"p":9,"s":"K","x":0.003,"y":0.744},{"p":9,"s":"K","x":0.008,"y":0.776},{"p":9,"s":"K","x":0.013,"y":0.797},{"p":9,"s":"K","x":0.02,"y":0.828},{"p":9,"s":"K","x":0.028,"y":0.839},{"p":9,"s":"K","x":0.037,"y":0.86},{"p":9,"s":"K","x":0.048,"y":0.881},{"p":9,"s":"K","x":0.071,"y":0.886},{"p":9,"s":"K","x":0.076,"y":0.902},{"p":9,"s":"K","x":0.1,"y":0.907},{"p":9,"s":"K","x":0.12,"y":0.918},{"p":9,"s":"K","x":0.125,"y":0.928},{"p":9,"s":"K","x":0.193,"y":0.934},{"p":9,"s":"K","x":0.339,"y":0.949},{"p":9,"s":"K","x":0.426,"y":0.96},{"p":9,"s":"K","x":0.431,"y":0.965},{"p":9,"s":"K","x":0.489,"y":0.971},{"p":9,"s":"K","x":0.52,"y":0.976},
{"p":9,"s":"R","x":0,"y":0.1},{"p":9,"s":"R","x":0.001,"y":0.2},{"p":9,"s":"R","x":0.003,"y":0.84},{"p":9,"s":"R","x":0.006,"y":0.88},{"p":9,"s":"R","x":0.013,"y":0.9},{"p":9,"s":"R","x":0.023,"y":0.915},{"p":9,"s":"R","x":0.033,"y":0.935},{"p":9,"s":"R","x":0.062,"y":0.94},{"p":9,"s":"R","x":0.095,"y":0.945},{"p":9,"s":"R","x":0.2,"y":0.95},{"p":9,"s":"R","x":0.23,"y":0.965},{"p":9,"s":"R","x":0.26,"y":0.97},{"p":9,"s":"R","x":0.37,"y":0.98},{"p":9,"s":"R","x":0.4,"y":0.98},{"p":9,"s":"R","x":0.41,"y":0.99},{"p":9,"s":"R","x":0.52,"y":0.99},
{"p":9,"s":"B","x":0,"y":0.1},{"p":9,"s":"B","x":0.001,"y":0.2},{"p":9,"s":"B","x":0.003,"y":0.84},{"p":9,"s":"B","x":0.008,"y":0.89},{"p":9,"s":"B","x":0.015,"y":0.91},{"p":9,"s":"B","x":0.025,"y":0.92},{"p":9,"s":"B","x":0.035,"y":0.93},{"p":9,"s":"B","x":0.06,"y":0.935},{"p":9,"s":"B","x":0.12,"y":0.945},{"p":9,"s":"B","x":0.18,"y":0.955},{"p":9,"s":"B","x":0.22,"y":0.965},{"p":9,"s":"B","x":0.28,"y":0.97},{"p":9,"s":"B","x":0.32,"y":0.975},{"p":9,"s":"B","x":0.33,"y":0.98},{"p":9,"s":"B","x":0.37,"y":0.985},{"p":9,"s":"B","x":0.38,"y":0.99},{"p":9,"s":"B","x":0.52,"y":0.99},
{"p":9,"s":"G","x":0,"y":0.1},{"p":9,"s":"G","x":0.001,"y":0.2},{"p":9,"s":"G","x":0.003,"y":0.85},{"p":9,"s":"G","x":0.008,"y":0.895},{"p":9,"s":"G","x":0.015,"y":0.915},{"p":9,"s":"G","x":0.03,"y":0.93},{"p":9,"s":"G","x":0.06,"y":0.935},{"p":9,"s":"G","x":0.1,"y":0.945},{"p":9,"s":"G","x":0.18,"y":0.955},{"p":9,"s":"G","x":0.19,"y":0.97},{"p":9,"s":"G","x":0.26,"y":0.975},{"p":9,"s":"G","x":0.27,"y":0.98},{"p":9,"s":"G","x":0.33,"y":0.985},{"p":9,"s":"G","x":0.34,"y":0.99},{"p":9,"s":"G","x":0.52,"y":0.99},
{"p":9,"s":"P","x":0.002,"y":0.1},{"p":9,"s":"P","x":0.004,"y":0.7},{"p":9,"s":"P","x":0.006,"y":0.86},{"p":9,"s":"P","x":0.01,"y":0.9},{"p":9,"s":"P","x":0.013,"y":0.93},{"p":9,"s":"P","x":0.03,"y":0.94},{"p":9,"s":"P","x":0.057,"y":0.949},{"p":9,"s":"P","x":0.07,"y":0.955},{"p":9,"s":"P","x":0.096,"y":0.965},{"p":9,"s":"P","x":0.137,"y":0.974},{"p":9,"s":"P","x":0.161,"y":0.992},{"p":9,"s":"P","x":0.52,"y":0.992},

{"p":10,"s":"K","x":0,"y":0.1},{"p":10,"s":"K","x":0.001,"y":0.738},{"p":10,"s":"K","x":0.007,"y":0.789},{"p":10,"s":"K","x":0.017,"y":0.823},{"p":10,"s":"K","x":0.037,"y":0.857},{"p":10,"s":"K","x":0.061,"y":0.877},{"p":10,"s":"K","x":0.085,"y":0.882},{"p":10,"s":"K","x":0.134,"y":0.89},{"p":10,"s":"K","x":0.183,"y":0.907},{"p":10,"s":"K","x":0.231,"y":0.932},{"p":10,"s":"K","x":0.28,"y":0.941},{"p":10,"s":"K","x":0.329,"y":0.954},{"p":10,"s":"K","x":0.377,"y":0.966},{"p":10,"s":"K","x":0.426,"y":0.971},{"p":10,"s":"K","x":0.52,"y":0.975},
{"p":10,"s":"R","x":0,"y":0.1},{"p":10,"s":"R","x":0.001,"y":0.806},{"p":10,"s":"R","x":0.005,"y":0.873},{"p":10,"s":"R","x":0.012,"y":0.899},{"p":10,"s":"R","x":0.037,"y":0.916},{"p":10,"s":"R","x":0.066,"y":0.924},{"p":10,"s":"R","x":0.11,"y":0.941},{"p":10,"s":"R","x":0.158,"y":0.949},{"p":10,"s":"R","x":0.231,"y":0.958},{"p":10,"s":"R","x":0.329,"y":0.966},{"p":10,"s":"R","x":0.426,"y":0.978},{"p":10,"s":"R","x":0.52,"y":0.983},
{"p":10,"s":"B","x":0,"y":0.1},{"p":10,"s":"B","x":0.001,"y":0.823},{"p":10,"s":"B","x":0.005,"y":0.882},{"p":10,"s":"B","x":0.012,"y":0.904},{"p":10,"s":"B","x":0.037,"y":0.924},{"p":10,"s":"B","x":0.066,"y":0.936},{"p":10,"s":"B","x":0.11,"y":0.949},{"p":10,"s":"B","x":0.158,"y":0.958},{"p":10,"s":"B","x":0.231,"y":0.965},{"p":10,"s":"B","x":0.329,"y":0.971},{"p":10,"s":"B","x":0.426,"y":0.978},{"p":10,"s":"B","x":0.52,"y":0.983},
{"p":10,"s":"G","x":0,"y":0.1},{"p":10,"s":"G","x":0.001,"y":0.831},{"p":10,"s":"G","x":0.005,"y":0.887},{"p":10,"s":"G","x":0.012,"y":0.907},{"p":10,"s":"G","x":0.037,"y":0.927},{"p":10,"s":"G","x":0.066,"y":0.941},{"p":10,"s":"G","x":0.11,"y":0.953},{"p":10,"s":"G","x":0.158,"y":0.961},{"p":10,"s":"G","x":0.231,"y":0.966},{"p":10,"s":"G","x":0.329,"y":0.971},{"p":10,"s":"G","x":0.426,"y":0.978},{"p":10,"s":"G","x":0.52,"y":0.981},
{"p":10,"s":"P","x":0,"y":0.1},{"p":10,"s":"P","x":0.0005,"y":0.671},{"p":10,"s":"P","x":0.002,"y":0.84},{"p":10,"s":"P","x":0.007,"y":0.899},{"p":10,"s":"P","x":0.017,"y":0.916},{"p":10,"s":"P","x":0.037,"y":0.941},{"p":10,"s":"P","x":0.051,"y":0.963},{"p":10,"s":"P","x":0.085,"y":0.966},{"p":10,"s":"P","x":0.134,"y":0.971},{"p":10,"s":"P","x":0.231,"y":0.978},{"p":10,"s":"P","x":0.377,"y":0.986},{"p":10,"s":"P","x":0.52,"y":0.988},

{"p":11,"s":"K","x":0,"y":0.1},{"p":11,"s":"K","x":0.001,"y":0.747},{"p":11,"s":"K","x":0.005,"y":0.798},{"p":11,"s":"K","x":0.015,"y":0.832},{"p":11,"s":"K","x":0.024,"y":0.857},{"p":11,"s":"K","x":0.044,"y":0.874},{"p":11,"s":"K","x":0.073,"y":0.89},{"p":11,"s":"K","x":0.107,"y":0.902},{"p":11,"s":"K","x":0.156,"y":0.916},{"p":11,"s":"K","x":0.204,"y":0.919},{"p":11,"s":"K","x":0.277,"y":0.933},{"p":11,"s":"K","x":0.326,"y":0.941},{"p":11,"s":"K","x":0.375,"y":0.949},{"p":11,"s":"K","x":0.447,"y":0.958},{"p":11,"s":"K","x":0.52,"y":0.966},
{"p":11,"s":"R","x":0,"y":0.1},{"p":11,"s":"R","x":0.001,"y":0.815},{"p":11,"s":"R","x":0.005,"y":0.874},{"p":11,"s":"R","x":0.012,"y":0.89},{"p":11,"s":"R","x":0.034,"y":0.907},{"p":11,"s":"R","x":0.063,"y":0.924},{"p":11,"s":"R","x":0.107,"y":0.933},{"p":11,"s":"R","x":0.156,"y":0.941},{"p":11,"s":"R","x":0.229,"y":0.949},{"p":11,"s":"R","x":0.326,"y":0.958},{"p":11,"s":"R","x":0.423,"y":0.966},{"p":11,"s":"R","x":0.52,"y":0.975},
{"p":11,"s":"B","x":0,"y":0.1},{"p":11,"s":"B","x":0.001,"y":0.823},{"p":11,"s":"B","x":0.005,"y":0.882},{"p":11,"s":"B","x":0.012,"y":0.899},{"p":11,"s":"B","x":0.034,"y":0.916},{"p":11,"s":"B","x":0.063,"y":0.933},{"p":11,"s":"B","x":0.107,"y":0.941},{"p":11,"s":"B","x":0.156,"y":0.949},{"p":11,"s":"B","x":0.229,"y":0.955},{"p":11,"s":"B","x":0.326,"y":0.963},{"p":11,"s":"B","x":0.423,"y":0.971},{"p":11,"s":"B","x":0.52,"y":0.978},
{"p":11,"s":"G","x":0,"y":0.1},{"p":11,"s":"G","x":0.001,"y":0.832},{"p":11,"s":"G","x":0.005,"y":0.89},{"p":11,"s":"G","x":0.012,"y":0.907},{"p":11,"s":"G","x":0.034,"y":0.924},{"p":11,"s":"G","x":0.063,"y":0.941},{"p":11,"s":"G","x":0.107,"y":0.949},{"p":11,"s":"G","x":0.156,"y":0.955},{"p":11,"s":"G","x":0.229,"y":0.961},{"p":11,"s":"G","x":0.326,"y":0.966},{"p":11,"s":"G","x":0.423,"y":0.975},{"p":11,"s":"G","x":0.52,"y":0.98},
{"p":11,"s":"P","x":0,"y":0.1},{"p":11,"s":"P","x":0.001,"y":0.78},{"p":11,"s":"P","x":0.003,"y":0.865},{"p":11,"s":"P","x":0.01,"y":0.907},{"p":11,"s":"P","x":0.024,"y":0.933},{"p":11,"s":"P","x":0.044,"y":0.941},{"p":11,"s":"P","x":0.068,"y":0.966},{"p":11,"s":"P","x":0.107,"y":0.97},{"p":11,"s":"P","x":0.18,"y":0.975},{"p":11,"s":"P","x":0.277,"y":0.978},{"p":11,"s":"P","x":0.375,"y":0.983},{"p":11,"s":"P","x":0.52,"y":0.988},

{"p":12,"s":"K","x":0.001,"y":0.1},{"p":12,"s":"K","x":0.002,"y":0.725},{"p":12,"s":"K","x":0.006,"y":0.777},{"p":12,"s":"K","x":0.014,"y":0.809},{"p":12,"s":"K","x":0.023,"y":0.83},{"p":12,"s":"K","x":0.043,"y":0.861},{"p":12,"s":"K","x":0.062,"y":0.877},{"p":12,"s":"K","x":0.091,"y":0.893},{"p":12,"s":"K","x":0.13,"y":0.903},{"p":12,"s":"K","x":0.179,"y":0.924},{"p":12,"s":"K","x":0.227,"y":0.935},{"p":12,"s":"K","x":0.3,"y":0.945},{"p":12,"s":"K","x":0.373,"y":0.956},{"p":12,"s":"K","x":0.446,"y":0.961},{"p":12,"s":"K","x":0.52,"y":0.969},
{"p":12,"s":"R","x":0,"y":0.1},{"p":12,"s":"R","x":0.001,"y":0.83},{"p":12,"s":"R","x":0.006,"y":0.872},{"p":12,"s":"R","x":0.014,"y":0.898},{"p":12,"s":"R","x":0.028,"y":0.919},{"p":12,"s":"R","x":0.052,"y":0.94},{"p":12,"s":"R","x":0.082,"y":0.948},{"p":12,"s":"R","x":0.13,"y":0.956},{"p":12,"s":"R","x":0.203,"y":0.961},{"p":12,"s":"R","x":0.276,"y":0.969},{"p":12,"s":"R","x":0.373,"y":0.975},{"p":12,"s":"R","x":0.52,"y":0.981},
{"p":12,"s":"B","x":0,"y":0.1},{"p":12,"s":"B","x":0.001,"y":0.835},{"p":12,"s":"B","x":0.006,"y":0.877},{"p":12,"s":"B","x":0.014,"y":0.903},{"p":12,"s":"B","x":0.028,"y":0.924},{"p":12,"s":"B","x":0.052,"y":0.943},{"p":12,"s":"B","x":0.082,"y":0.951},{"p":12,"s":"B","x":0.13,"y":0.958},{"p":12,"s":"B","x":0.203,"y":0.964},{"p":12,"s":"B","x":0.276,"y":0.971},{"p":12,"s":"B","x":0.373,"y":0.977},{"p":12,"s":"B","x":0.52,"y":0.983},
{"p":12,"s":"G","x":0,"y":0.1},{"p":12,"s":"G","x":0.001,"y":0.84},{"p":12,"s":"G","x":0.006,"y":0.882},{"p":12,"s":"G","x":0.014,"y":0.909},{"p":12,"s":"G","x":0.028,"y":0.93},{"p":12,"s":"G","x":0.052,"y":0.948},{"p":12,"s":"G","x":0.082,"y":0.954},{"p":12,"s":"G","x":0.13,"y":0.96},{"p":12,"s":"G","x":0.203,"y":0.966},{"p":12,"s":"G","x":0.276,"y":0.973},{"p":12,"s":"G","x":0.373,"y":0.979},{"p":12,"s":"G","x":0.52,"y":0.984},
{"p":12,"s":"P","x":0,"y":0.1},{"p":12,"s":"P","x":0.0005,"y":0.546},{"p":12,"s":"P","x":0.002,"y":0.84},{"p":12,"s":"P","x":0.006,"y":0.893},{"p":12,"s":"P","x":0.014,"y":0.924},{"p":12,"s":"P","x":0.028,"y":0.948},{"p":12,"s":"P","x":0.052,"y":0.961},{"p":12,"s":"P","x":0.082,"y":0.966},{"p":12,"s":"P","x":0.13,"y":0.977},{"p":12,"s":"P","x":0.203,"y":0.98},{"p":12,"s":"P","x":0.276,"y":0.983},{"p":12,"s":"P","x":0.373,"y":0.987},{"p":12,"s":"P","x":0.52,"y":0.992}
]},
"vconcat": [
{"title": {"text": "n = 8, 6"}, "width": 338, "height": 250.5, "data": {"name": "d"}, "transform": [{"filter": "datum.p == 1"}], "mark": {"type": "line"},
 "encoding": {"x": {"field": "x", "type": "quantitative", "scale": {"domain": [-0.02, 0.52], "nice": false, "zero": false}, "axis": {"values": [0,0.1,0.2,0.3,0.4,0.5], "format": "~g", "title": null}},
  "y": {"field": "y", "type": "quantitative", "scale": {"domain": [0.168, 1.032], "nice": false, "zero": false}, "axis": {"values": [0.2,0.4,0.6,0.8,1], "format": "~g", "title": "π₁ = 0.01", "titleX": -75, "titleBaseline": "middle"}},
  "color": {"field": "s", "type": "nominal", "scale": {"domain": ["K","R","B","G","P"], "range": ["#000000","#ff0000","#0000ff","#00ee00","#a020f0"]}, "legend": null}}},
{"width": 338, "height": 250.5, "data": {"name": "d"}, "transform": [{"filter": "datum.p == 2"}], "mark": {"type": "line"},
 "encoding": {"x": {"field": "x", "type": "quantitative", "scale": {"domain": [-0.02, 0.52], "nice": false, "zero": false}, "axis": {"values": [0,0.1,0.2,0.3,0.4,0.5], "format": "~g", "title": null}},
  "y": {"field": "y", "type": "quantitative", "scale": {"domain": [0.168, 1.032], "nice": false, "zero": false}, "axis": {"values": [0.2,0.4,0.6,0.8,1], "format": "~g", "title": "π₁ = 0.05", "titleX": -75, "titleBaseline": "middle"}},
  "color": {"field": "s", "type": "nominal", "scale": {"domain": ["K","R","B","G","P"], "range": ["#000000","#ff0000","#0000ff","#00ee00","#a020f0"]}, "legend": null}}},
{"width": 338, "height": 250.5, "data": {"name": "d"}, "transform": [{"filter": "datum.p == 3"}], "mark": {"type": "line"},
 "encoding": {"x": {"field": "x", "type": "quantitative", "scale": {"domain": [-0.02, 0.52], "nice": false, "zero": false}, "axis": {"values": [0,0.1,0.2,0.3,0.4,0.5], "format": "~g", "title": null}},
  "y": {"field": "y", "type": "quantitative", "scale": {"domain": [0.168, 1.032], "nice": false, "zero": false}, "axis": {"values": [0.2,0.4,0.6,0.8,1], "format": "~g", "title": "π₁ = 0.1", "titleX": -75, "titleBaseline": "middle"}},
  "color": {"field": "s", "type": "nominal", "scale": {"domain": ["K","R","B","G","P"], "range": ["#000000","#ff0000","#0000ff","#00ee00","#a020f0"]}, "legend": null}}},
{"width": 338, "height": 250.5, "data": {"name": "d"}, "transform": [{"filter": "datum.p == 4"}], "mark": {"type": "line"},
 "encoding": {"x": {"field": "x", "type": "quantitative", "scale": {"domain": [-0.02, 0.52], "nice": false, "zero": false}, "axis": {"values": [0,0.1,0.2,0.3,0.4,0.5], "format": "~g", "title": null}},
  "y": {"field": "y", "type": "quantitative", "scale": {"domain": [0.168, 1.032], "nice": false, "zero": false}, "axis": {"values": [0.2,0.4,0.6,0.8,1], "format": "~g", "title": "π₁ = 0.25", "titleX": -75, "titleBaseline": "middle"}},
  "color": {"field": "s", "type": "nominal", "scale": {"domain": ["K","R","B","G","P"], "range": ["#000000","#ff0000","#0000ff","#00ee00","#a020f0"]}, "legend": null}}},
{"width": 10, "height": 4.5, "data": {"values": []}, "mark": {"type": "point", "opacity": 0}, "encoding": {}, "view": {"stroke": null}},
{"title": {"text": "n = 16, 12"}, "width": 338, "height": 250.5, "data": {"name": "d"}, "transform": [{"filter": "datum.p == 5"}], "mark": {"type": "line"},
 "encoding": {"x": {"field": "x", "type": "quantitative", "scale": {"domain": [-0.02, 0.52], "nice": false, "zero": false}, "axis": {"values": [0,0.1,0.2,0.3,0.4,0.5], "format": "~g", "title": null}},
  "y": {"field": "y", "type": "quantitative", "scale": {"domain": [0.168, 1.032], "nice": false, "zero": false}, "axis": {"values": [0.2,0.4,0.6,0.8,1], "format": "~g", "title": "π₁ = 0.01", "titleX": -75, "titleBaseline": "middle"}},
  "color": {"field": "s", "type": "nominal", "scale": {"domain": ["K","R","B","G","P"], "range": ["#000000","#ff0000","#0000ff","#00ee00","#a020f0"]}, "legend": null}}},
{"width": 338, "height": 250.5, "data": {"name": "d"}, "transform": [{"filter": "datum.p == 6"}], "mark": {"type": "line"},
 "encoding": {"x": {"field": "x", "type": "quantitative", "scale": {"domain": [-0.02, 0.52], "nice": false, "zero": false}, "axis": {"values": [0,0.1,0.2,0.3,0.4,0.5], "format": "~g", "title": null}},
  "y": {"field": "y", "type": "quantitative", "scale": {"domain": [0.168, 1.032], "nice": false, "zero": false}, "axis": {"values": [0.2,0.4,0.6,0.8,1], "format": "~g", "title": "π₁ = 0.05", "titleX": -75, "titleBaseline": "middle"}},
  "color": {"field": "s", "type": "nominal", "scale": {"domain": ["K","R","B","G","P"], "range": ["#000000","#ff0000","#0000ff","#00ee00","#a020f0"]}, "legend": null}}},
{"width": 338, "height": 250.5, "data": {"name": "d"}, "transform": [{"filter": "datum.p == 7"}], "mark": {"type": "line"},
 "encoding": {"x": {"field": "x", "type": "quantitative", "scale": {"domain": [-0.02, 0.52], "nice": false, "zero": false}, "axis": {"values": [0,0.1,0.2,0.3,0.4,0.5], "format": "~g", "title": null}},
  "y": {"field": "y", "type": "quantitative", "scale": {"domain": [0.168, 1.032], "nice": false, "zero": false}, "axis": {"values": [0.2,0.4,0.6,0.8,1], "format": "~g", "title": "π₁ = 0.1", "titleX": -75, "titleBaseline": "middle"}},
  "color": {"field": "s", "type": "nominal", "scale": {"domain": ["K","R","B","G","P"], "range": ["#000000","#ff0000","#0000ff","#00ee00","#a020f0"]}, "legend": null}}},
{"width": 338, "height": 250.5, "data": {"name": "d"}, "transform": [{"filter": "datum.p == 8"}], "mark": {"type": "line"},
 "encoding": {"x": {"field": "x", "type": "quantitative", "scale": {"domain": [-0.02, 0.52], "nice": false, "zero": false}, "axis": {"values": [0,0.1,0.2,0.3,0.4,0.5], "format": "~g", "title": null}},
  "y": {"field": "y", "type": "quantitative", "scale": {"domain": [0.168, 1.032], "nice": false, "zero": false}, "axis": {"values": [0.2,0.4,0.6,0.8,1], "format": "~g", "title": "π₁ = 0.25", "titleX": -75, "titleBaseline": "middle"}},
  "color": {"field": "s", "type": "nominal", "scale": {"domain": ["K","R","B","G","P"], "range": ["#000000","#ff0000","#0000ff","#00ee00","#a020f0"]}, "legend": null}}},
{"width": 10, "height": 1, "data": {"values": []}, "mark": {"type": "point", "opacity": 0}, "encoding": {}, "view": {"stroke": null}},
{"title": {"text": "n = 60, 45"}, "width": 327, "height": 242.5, "data": {"name": "d"}, "transform": [{"filter": "datum.p == 9"}], "mark": {"type": "line"},
 "encoding": {"x": {"field": "x", "type": "quantitative", "scale": {"domain": [-0.02, 0.52], "nice": false, "zero": false}, "axis": {"values": [0,0.1,0.2,0.3,0.4,0.5], "format": "~g", "title": null}},
  "y": {"field": "y", "type": "quantitative", "scale": {"domain": [0.168, 1.032], "nice": false, "zero": false}, "axis": {"values": [0.2,0.4,0.6,0.8,1], "format": "~g", "title": "π₁ = 0.01", "titleX": -75, "titleBaseline": "middle"}},
  "color": {"field": "s", "type": "nominal", "scale": {"domain": ["K","R","B","G","P"], "range": ["#000000","#ff0000","#0000ff","#00ee00","#a020f0"]}, "legend": null}}},
{"width": 327, "height": 242.5, "data": {"name": "d"}, "transform": [{"filter": "datum.p == 10"}], "mark": {"type": "line"},
 "encoding": {"x": {"field": "x", "type": "quantitative", "scale": {"domain": [-0.02, 0.52], "nice": false, "zero": false}, "axis": {"values": [0,0.1,0.2,0.3,0.4,0.5], "format": "~g", "title": null}},
  "y": {"field": "y", "type": "quantitative", "scale": {"domain": [0.168, 1.032], "nice": false, "zero": false}, "axis": {"values": [0.2,0.4,0.6,0.8,1], "format": "~g", "title": "π₁ = 0.05", "titleX": -75, "titleBaseline": "middle"}},
  "color": {"field": "s", "type": "nominal", "scale": {"domain": ["K","R","B","G","P"], "range": ["#000000","#ff0000","#0000ff","#00ee00","#a020f0"]}, "legend": null}}},
{"width": 327, "height": 242.5, "data": {"name": "d"}, "transform": [{"filter": "datum.p == 11"}], "mark": {"type": "line"},
 "encoding": {"x": {"field": "x", "type": "quantitative", "scale": {"domain": [-0.02, 0.52], "nice": false, "zero": false}, "axis": {"values": [0,0.1,0.2,0.3,0.4,0.5], "format": "~g", "title": null}},
  "y": {"field": "y", "type": "quantitative", "scale": {"domain": [0.168, 1.032], "nice": false, "zero": false}, "axis": {"values": [0.2,0.4,0.6,0.8,1], "format": "~g", "title": "π₁ = 0.1", "titleX": -75, "titleBaseline": "middle"}},
  "color": {"field": "s", "type": "nominal", "scale": {"domain": ["K","R","B","G","P"], "range": ["#000000","#ff0000","#0000ff","#00ee00","#a020f0"]}, "legend": null}}},
{"width": 327, "height": 242.5, "data": {"name": "d"}, "transform": [{"filter": "datum.p == 12"}], "mark": {"type": "line"},
 "encoding": {"x": {"field": "x", "type": "quantitative", "scale": {"domain": [-0.02, 0.52], "nice": false, "zero": false}, "axis": {"values": [0,0.1,0.2,0.3,0.4,0.5], "format": "~g", "title": null}},
  "y": {"field": "y", "type": "quantitative", "scale": {"domain": [0.168, 1.032], "nice": false, "zero": false}, "axis": {"values": [0.2,0.4,0.6,0.8,1], "format": "~g", "title": "π₁ = 0.25", "titleX": -75, "titleBaseline": "middle"}},
  "color": {"field": "s", "type": "nominal", "scale": {"domain": ["K","R","B","G","P"], "range": ["#000000","#ff0000","#0000ff","#00ee00","#a020f0"]}, "legend": null}}}
],
"spacing": 75,
"bounds": "flush",
"center": true,
"resolve": {"scale": {"x": "independent", "y": "independent"}}
}
